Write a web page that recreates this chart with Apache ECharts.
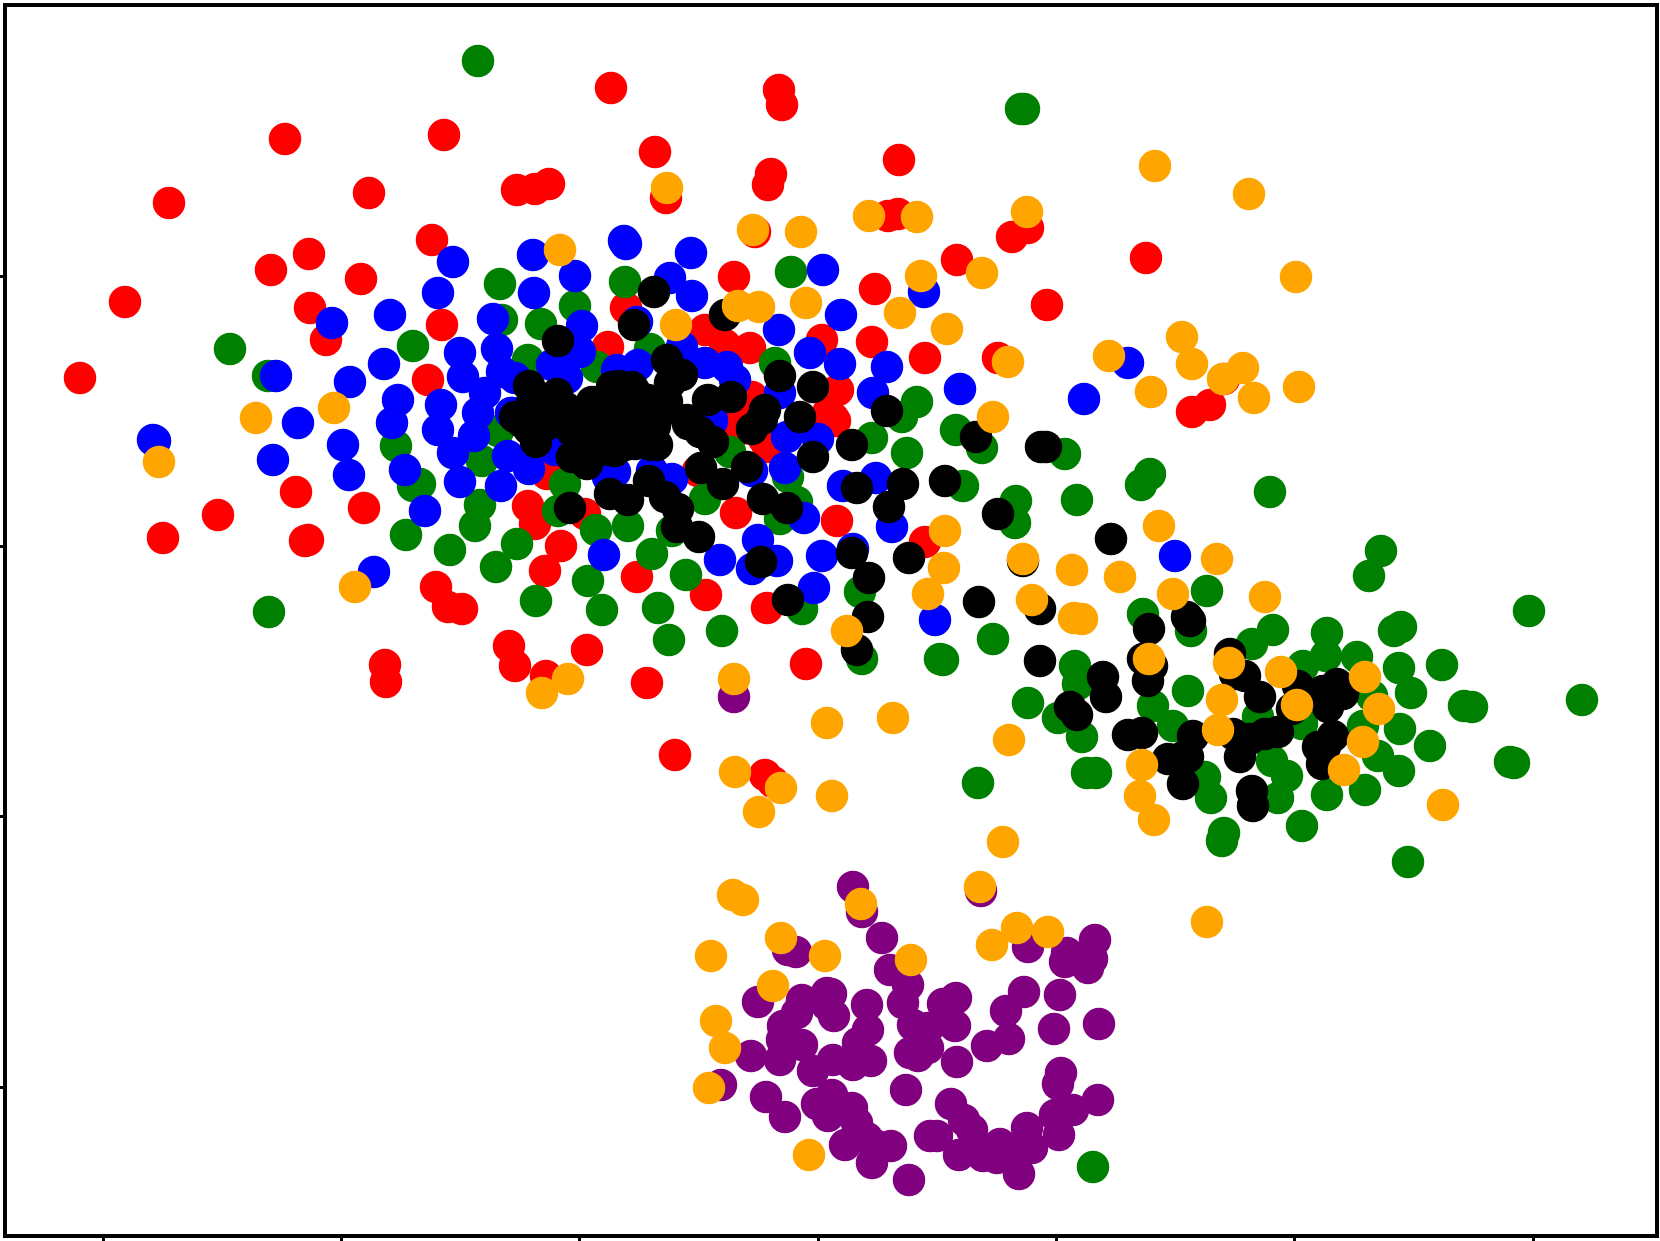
<!DOCTYPE html>
<html>
<head>
<meta charset="utf-8">
<style>
  html, body { margin: 0; padding: 0; background: #fff; }
  #chart { width: 1660px; height: 1241px; }
</style>
<script src="https://cdn.jsdelivr.net/npm/echarts@6/dist/echarts.min.js"></script>
</head>
<body>
<div id="chart"></div>
<script>
// tick positions, the reference has no tick labels
const xTicks = [0, 238.3, 476.7, 715, 953.3, 1191.7, 1430]
const yTicks = [0, 270.3, 540.7, 811]

// values, in axis units
const purplePoints = [
  [750,200],[759,175],[779,149],[878,196],[693,135],[685,137],[787,117],[805,102],[800,84],[655,85],
  [699,87],[694,74],[724,94],[728,93],[724,82],[731,71],[764,82],[765,57],[680,61],[679,47],
  [699,42],[648,31],[677,27],[730,27],[710,16],[755,44],[750,22],[768,26],[840,83],[853,89],
  [852,61],[810,62],[825,59],[807,34],[815,31],[825,39],[854,25],[884,41],[906,48],[903,76],
  [921,95],[957,92],[951,58],[996,63],[925,140],[964,134],[962,125],[992,147],[989,128],[985,119],
  [618,2],[663,-10],[682,-30],[803,-3],[729,-8],[714,-17],[749,-21],[725,-29],[754,-36],[742,-58],
  [764,-51],[769,-76],[774,-59],[788,-59],[806,-93],[827,-49],[834,-49],[848,-17],[861,-33],[869,-43],
  [856,-68],[880,-69],[897,-57],[894,-71],[924,-41],[917,-61],[929,-61],[916,-87],[956,-48],[952,-28],
  [970,-23],[995,-13],[958,14],[955,3],[631,390]
]
const redPoints = [
  [182,948],[266,894],[66,884],[168,817],[206,833],[258,808],[22,785],[207,779],[223,747],[-23,709],
  [325,707],[508,999],[676,997],[679,982],[341,952],[552,935],[414,897],[432,898],[446,903],[668,913],
  [665,902],[563,889],[652,855],[329,847],[631,810],[339,762],[523,779],[505,740],[602,757],[622,742],
  [647,739],[719,747],[649,690],[635,674],[725,674],[796,927],[785,871],[795,873],[925,859],[909,850],
  [854,827],[772,798],[1043,829],[944,782],[769,745],[822,729],[895,729],[735,697],[1121,708],[1107,682],
  [1089,675],[193,595],[261,579],[115,572],[60,549],[202,546],[205,547],[282,422],[283,405],[444,613],
  [425,581],[432,563],[482,573],[458,541],[442,516],[534,510],[603,492],[633,574],[664,479],[665,640],
  [632,666],[595,616],[333,500],[345,480],[359,478],[406,441],[412,421],[443,411],[484,437],[544,404],
  [703,423],[572,332],[662,312],[670,305],[734,566],[732,666],[822,545],[730,669],[638,658],[661,648]
]
const greenPoints = [
  [127,738],[165,711],[310,741],[375,1026],[397,803],[399,767],[438,763],[425,727],[472,781],[522,805],
  [547,738],[494,720],[688,815],[672,724],[918,978],[921,978],[814,685],[293,641],[310,601],[303,552],
  [166,475],[317,603],[395,656],[379,626],[377,582],[372,561],[347,537],[414,543],[393,520],[433,486],
  [462,603],[455,576],[493,557],[525,561],[485,506],[499,477],[549,533],[569,556],[583,512],[555,479],
  [566,447],[619,456],[602,588],[627,635],[685,610],[694,585],[677,568],[699,478],[769,649],[799,670],
  [804,634],[853,657],[879,639],[962,633],[860,601],[913,586],[912,564],[974,587],[1047,613],[1038,602],
  [757,495],[759,428],[837,428],[840,427],[890,448],[1104,496],[1040,473],[1088,456],[972,421],[975,403],
  [925,384],[955,369],[979,350],[1050,381],[1070,361],[1085,396],[984,314],[993,314],[875,304],[1102,310],
  [1108,289],[1119,246],[1121,254],[1149,443],[1167,595],[1278,536],[1266,511],[1426,476],[1170,457],[1224,454],
  [1291,456],[1298,460],[1200,421],[1223,431],[1254,430],[1296,419],[1339,422],[1308,394],[1361,381],[1369,380],
  [1479,387],[1269,391],[1260,361],[1297,358],[1327,341],[1275,331],[1296,316],[1407,325],[1411,324],[1262,297],
  [1224,292],[1184,311],[1169,326],[1175,289],[1199,261],[1199,363],[1155,370],[1305,225],[990,-80]
]
const bluePoints = [
  [229,764],[287,772],[281,723],[247,705],[173,711],[295,687],[195,664],[50,647],[52,646],[170,627],
  [240,642],[246,612],[289,664],[302,617],[271,515],[322,576],[350,825],[335,794],[430,832],[431,794],
  [472,811],[390,768],[357,734],[394,738],[360,710],[399,715],[382,694],[412,709],[338,682],[375,674],
  [479,761],[477,735],[449,722],[464,709],[409,674],[521,846],[523,843],[588,834],[567,809],[589,791],
  [534,765],[579,740],[514,717],[535,722],[602,724],[624,720],[632,707],[720,817],[676,757],[707,734],
  [677,694],[738,772],[784,720],[737,723],[770,694],[821,795],[857,698],[1025,724],[981,688],[335,657],
  [371,651],[350,634],[357,605],[398,601],[405,631],[426,618],[512,615],[505,610],[569,608],[549,616],
  [501,532],[459,640],[655,547],[674,526],[649,518],[617,527],[719,531],[711,499],[701,569],[682,619],
  [684,650],[715,648],[649,616],[609,666],[740,601],[773,609],[789,560],[750,538],[832,467],[1072,531],
  [608,672],[452,637],[408,674]
]
const blackPoints = [
  [551,795],[531,762],[455,746],[564,727],[579,712],[567,704],[426,701],[454,693],[429,684],[509,700],
  [529,700],[489,685],[545,687],[605,687],[628,690],[677,711],[710,700],[662,677],[697,670],[622,772],
  [584,667],[412,670],[419,665],[433,645],[445,663],[469,656],[489,663],[512,666],[532,665],[552,661],
  [469,630],[484,623],[499,640],[512,636],[532,643],[554,642],[482,656],[585,663],[597,655],[610,645],
  [598,619],[620,603],[649,658],[659,668],[644,620],[710,630],[660,588],[684,579],[467,579],[507,593],
  [525,587],[546,606],[562,590],[575,578],[574,560],[596,550],[658,525],[685,487],[749,642],[784,676],
  [873,650],[938,640],[943,640],[800,603],[754,599],[786,580],[842,606],[895,573],[1008,548],[749,534],
  [806,529],[766,509],[876,485],[920,526],[937,478],[765,470],[754,437],[937,426],[1084,470],[1087,466],
  [1046,458],[1040,428],[1049,421],[1045,406],[1000,410],[1003,390],[967,380],[974,372],[1025,352],[1039,354],
  [1065,328],[1080,330],[1085,330],[1090,351],[1080,303],[1127,433],[1132,413],[1130,353],[1137,330],[1149,296],
  [1150,281],[1142,411],[1157,390],[1195,401],[1189,378],[1234,403],[1240,393],[1220,396],[1225,380],[1175,355],
  [1162,353],[1147,348],[1230,351],[1215,340],[1222,340],[1219,323],
  [495,679],[522,690],[543,679],[474,669],[479,648],[495,653],[511,664],[532,658],[553,669],[506,637],
  [522,642],[463,679],[448,669],[437,685],[426,658],[548,642],[485,626],[564,685],[516,701],[532,695]
]
const orangePoints = [
  [153,669],[231,679],[56,625],[252,500],[457,837],[564,899],[650,857],[698,855],[573,762],[635,781],
  [656,780],[703,784],[1052,921],[766,871],[814,870],[924,875],[1146,893],[818,811],[879,814],[797,774],
  [844,758],[905,725],[1006,731],[1079,750],[1089,723],[1048,695],[1120,708],[1140,719],[890,670],[1193,810],
  [1196,700],[1151,689],[842,556],[841,519],[825,493],[744,456],[920,528],[929,487],[969,517],[1017,510],
  [971,469],[979,468],[1056,561],[1114,528],[1070,493],[1046,428],[1126,424],[1119,387],[1115,357],[1039,322],
  [1037,291],[1051,267],[790,369],[724,364],[906,347],[729,291],[1162,490],[1178,415],[1262,410],[1194,382],
  [1276,378],[1260,345],[1241,317],[1340,282],[631,408],[465,408],[439,394],[632,315],[678,299],[656,275],
  [630,192],[640,187],[608,131],[678,149],[722,131],[670,101],[613,66],[622,39],[606,-1],[758,183],
  [808,127],[706,-68],[877,200],[889,142],[900,245],[914,159],[945,155],[1104,165]
]

// later series draw on top
const layers = [
  { name: 'purple', color: 'purple', data: purplePoints },
  { name: 'red', color: 'red', data: redPoints },
  { name: 'green', color: 'green', data: greenPoints },
  { name: 'blue', color: 'blue', data: bluePoints },
  { name: 'black', color: 'black', data: blackPoints },
  { name: 'orange', color: 'orange', data: orangePoints },
]

const chart = echarts.init(document.getElementById('chart'))

chart.setOption({
  animation: false,
  backgroundColor: '#fff',
  grid: {
    show: true,
    left: 5,
    right: 3,
    top: 5,
    bottom: 5,
    borderColor: '#000',
    borderWidth: 4,
    backgroundColor: 'transparent',
  },
  xAxis: {
    type: 'value',
    min: -98,
    max: 1554,
    axisLine: { show: false, onZero: false },
    splitLine: { show: false },
    axisLabel: { show: false },
    axisTick: {
      show: true,
      length: 5,
      lineStyle: { color: '#000', width: 3 },
      customValues: xTicks,
    },
  },
  yAxis: {
    type: 'value',
    min: -149,
    max: 1082,
    axisLine: { show: false, onZero: false },
    splitLine: { show: false },
    axisLabel: { show: false },
    axisTick: {
      show: true,
      length: 5,
      lineStyle: { color: '#000', width: 3 },
      customValues: yTicks,
    },
  },
  series: layers.map(layer => ({
    name: layer.name,
    type: 'scatter',
    data: layer.data,
    symbol: 'circle',
    symbolSize: 32.5,
    itemStyle: { color: layer.color, opacity: 1 },
    emphasis: { disabled: true },
  })),
})
</script>
</body>
</html>
